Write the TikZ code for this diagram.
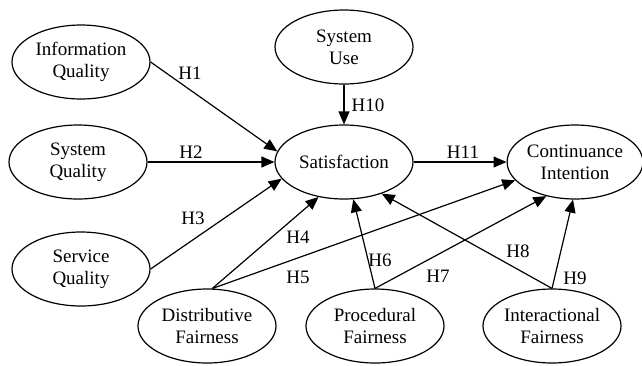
\documentclass[tikz,border=0pt]{standalone}
\usepackage{fontspec}
\setmainfont{Liberation Serif}
\usetikzlibrary{arrows.meta, positioning, shapes.geometric}

\begin{document}
\begin{tikzpicture}[x=0.5pt, y=-0.5pt,
    every node/.style={font=\fontsize{9.5}{11}\selectfont},
    construct/.style={ellipse, draw, line width=0.6pt, align=center, inner sep=0pt,
        minimum width=69pt, minimum height=37pt},
    path/.style={-{Triangle[length=6.5pt, width=5.5pt]}, line width=0.6pt},
    hyp/.style={inner sep=1pt}]
    \useasboundingbox (0,0) rectangle (642,365);

    % Constructs
    \node[construct] (iq) at (81,62) {Information\\Quality};
    \node[construct] (sq) at (78,162) {System\\Quality};
    \node[construct] (svq) at (81,269) {Service\\Quality};
    \node[construct] (use) at (344,47) {System\\Use};
    \node[construct] (sat) at (344,162) {Satisfaction};
    \node[construct, minimum width=66pt] (ci) at (575,162) {Continuance\\Intention};
    \node[construct] (df) at (207,326) {Distributive\\Fairness};
    \node[construct] (pf) at (375,326) {Procedural\\Fairness};
    \node[construct] (inf) at (552,326) {Interactional\\Fairness};

    % Paths
    \draw[path] (iq.east) -- (sat.171);
    \draw[path] (sq.east) -- (sat.west);
    \draw[path] (svq.east) -- (sat.195);
    \draw[path] (use.south) -- (sat.north);
    \draw[path] (sat.east) -- (ci.west);
    \draw[path] (df.82) -- (sat.234);
    \draw[path] (df.82) -- (ci.197);
    \draw[path] (pf.north) -- (sat.284);
    \draw[path] (pf.north) -- (ci.230);
    \draw[path] (inf.north) -- (sat.320);
    \draw[path] (inf.north) -- (ci.267);

    % Hypothesis labels
    \node[hyp] (h1) at (190,73) {H1};
    \node[hyp] (h2) at (191,152) {H2};
    \node[hyp] (h3) at (193,218) {H3};
    \node[hyp] (h4) at (298,237) {H4};
    \node[hyp] (h5) at (298,277) {H5};
    \node[hyp] (h6) at (380,260) {H6};
    \node[hyp] (h7) at (438,276) {H7};
    \node[hyp] (h8) at (518,251) {H8};
    \node[hyp] (h9) at (575,278) {H9};
    \node[hyp] (h10) at (368,105) {H10};
    \node[hyp] (h11) at (463,152) {H11};
\end{tikzpicture}
\end{document}
